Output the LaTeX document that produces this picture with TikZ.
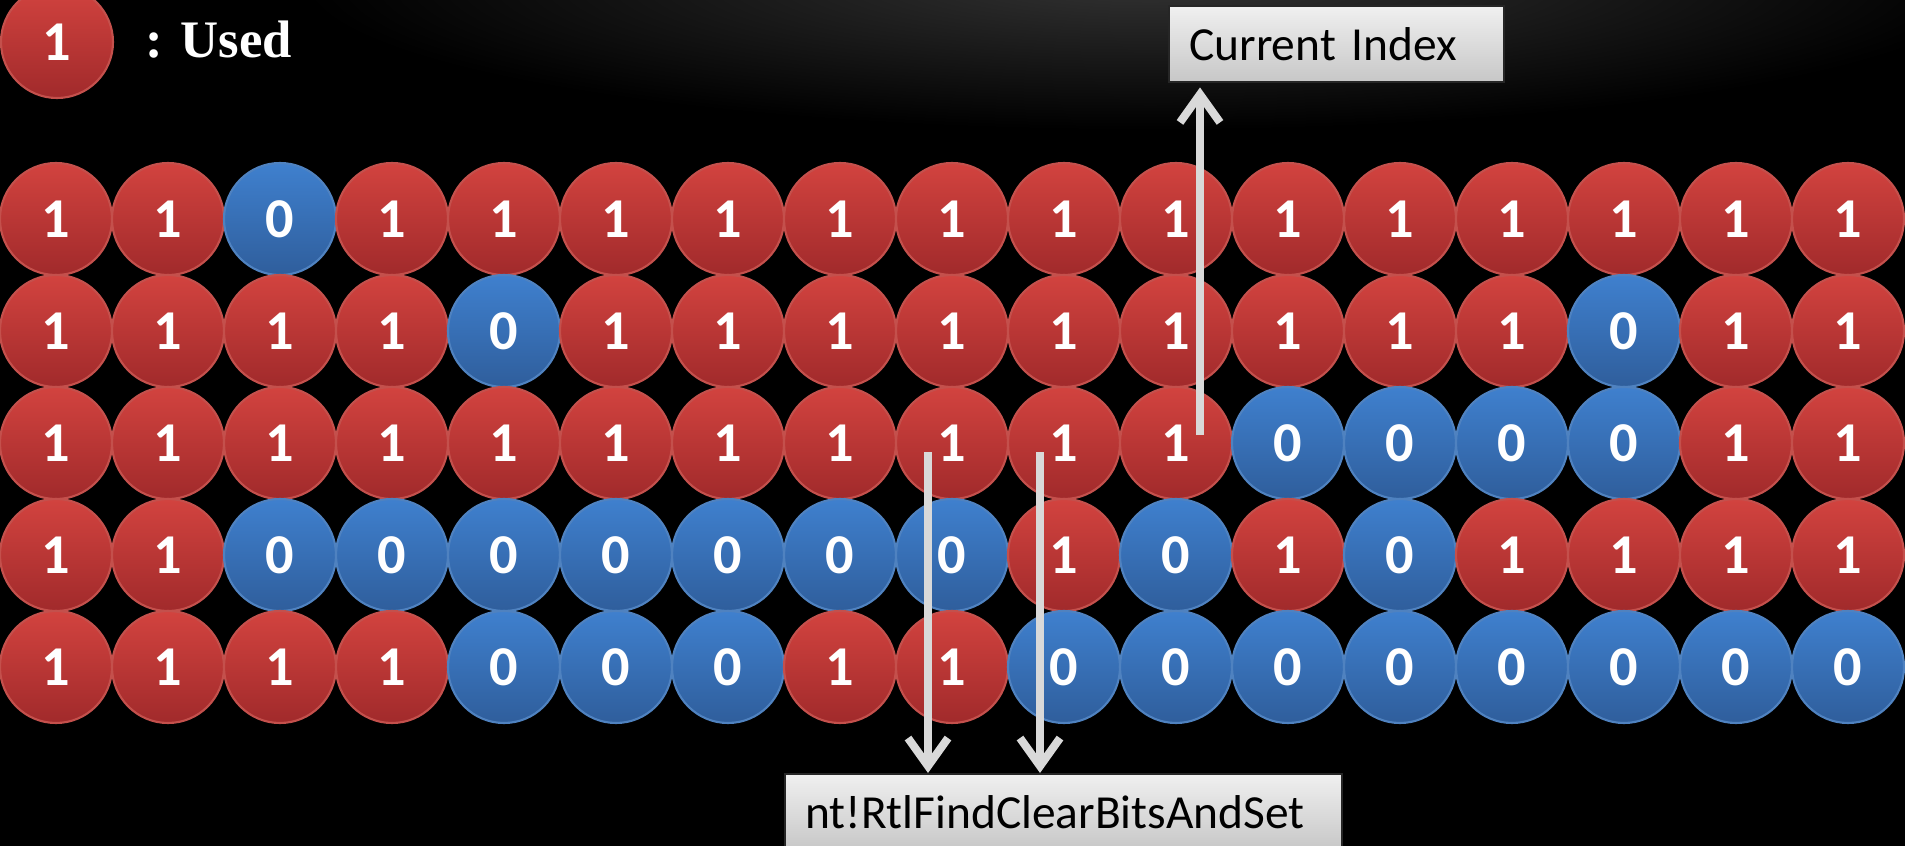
\documentclass[tikz,border=0pt]{standalone}
\usepackage{fontspec}
\setmainfont{Carlito}
\newfontfamily\timesfont{Liberation Serif}
\usetikzlibrary{calc, arrows.meta, positioning}
\definecolor{usedtop}{HTML}{D2433F}
\definecolor{usedbot}{HTML}{A12A2B}
\definecolor{usedrim}{HTML}{C4504C}
\definecolor{freetop}{HTML}{3F80CE}
\definecolor{freebot}{HTML}{2F5E9C}
\definecolor{freerim}{HTML}{4F82C0}
\definecolor{arrowgray}{HTML}{D9D9D9}
\tikzset{
  bitcell/.style={circle, minimum size=1.12cm, inner sep=0pt, line width=0.6pt,
    text=white, font=\fontsize{16}{16}\selectfont\bfseries},
  bit1/.style={bitcell, top color=usedtop, bottom color=usedbot, draw=usedrim},
  bit0/.style={bitcell, top color=freetop, bottom color=freebot, draw=freerim},
  labelbox/.style={rectangle, draw=black!85, line width=0.7pt, top color=black!6,
    bottom color=black!22, inner xsep=0.2cm, inner ysep=0pt, minimum height=0.76cm,
    align=left, font=\fontsize{13.5}{14}\selectfont},
  pointer/.style={draw=arrowgray, line width=2.3pt,
    arrows={-Straight Barb[length=0.28cm, width=0.4cm]}}
}
\begin{document}
\begin{tikzpicture}
    \useasboundingbox (0,0) rectangle (19.05,-8.46);
    \clip (0,0) rectangle (19.05,-8.46);
    \fill[black] (0,0) rectangle (19.05,-8.46);
    \shade[inner color=black!80, outer color=black] (11.5,0.2) ellipse (8.5cm and 1.5cm);

    % legend
    \node[bit1] (key) at (0.57,-0.42) {1};
    \node[anchor=base west, text=white, font=\timesfont\bfseries\fontsize{15}{15}\selectfont]
        (keytext) at (1.33,-0.58) {: Used};

    % bitmap
    \foreach \bits [count=\r] in {
        {1,1,0,1,1,1,1,1,1,1,1,1,1,1,1,1,1},
        {1,1,1,1,0,1,1,1,1,1,1,1,1,1,0,1,1},
        {1,1,1,1,1,1,1,1,1,1,1,0,0,0,0,1,1},
        {1,1,0,0,0,0,0,0,0,1,0,1,0,1,1,1,1},
        {1,1,1,1,0,0,0,1,1,0,0,0,0,0,0,0,0}}
    {
        \foreach \b [count=\c] in \bits
            \node[bit\b] (b\r-\c) at ({0.56+1.12*(\c-1)},{-2.19-1.12*(\r-1)}) {\b};
    }

    \node[labelbox, text width=2.95cm, anchor=north west] (cur) at (11.68,-0.05) {Current Index};
    \node[labelbox, text width=5.17cm, anchor=north west] (find) at (7.84,-7.73) {nt!RtlFindClearBitsAndSet};

    \coordinate (idx) at (12.00,-4.35);
    \draw[pointer, shorten >=0.04cm] (idx) -- (idx |- cur.south);

    \coordinate (scanA) at (9.28,-4.52);
    \coordinate (scanB) at (10.40,-4.52);
    \draw[pointer] (scanA) -- (scanA |- find.north);
    \draw[pointer] (scanB) -- (scanB |- find.north);
\end{tikzpicture}
\end{document}
